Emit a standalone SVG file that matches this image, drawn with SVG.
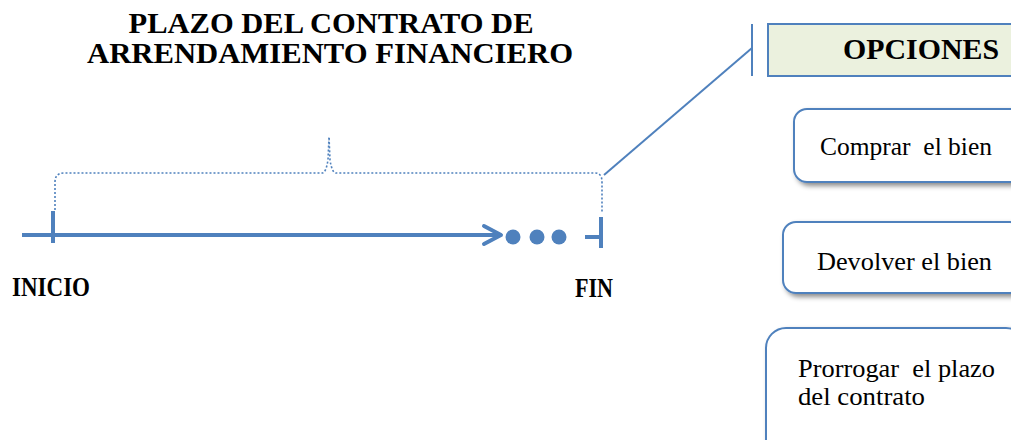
<svg xmlns="http://www.w3.org/2000/svg" width="1011" height="440" viewBox="0 0 1011 440">
<defs>
<style>
.t{font-family:"Liberation Serif","Times New Roman",serif;fill:#000;white-space:pre}
.b{font-weight:bold}
.ln{stroke:#4F81BD;fill:none}
.box{fill:#fff;stroke:#4F81BD;stroke-width:2}
</style>
<filter id="sh" x="-20%" y="-20%" width="140%" height="150%">
<feDropShadow dx="3" dy="3" stdDeviation="2.5" flood-color="#000" flood-opacity="0.45"/>
</filter>
</defs>
<rect width="1011" height="440" fill="#fff"/>
<g id="title">
<text class="t b" x="331" y="33" font-size="28.5" text-anchor="middle" textLength="405" lengthAdjust="spacingAndGlyphs">PLAZO DEL CONTRATO DE</text>
<text class="t b" x="330" y="63" font-size="28.5" text-anchor="middle" textLength="486" lengthAdjust="spacingAndGlyphs">ARRENDAMIENTO FINANCIERO</text>
</g>
<g id="connectors">
<line class="ln" x1="22" y1="235" x2="500" y2="235" stroke-width="4"/>
<polyline class="ln" points="484,226 501,235 484,244" stroke-width="4" stroke-linecap="round" stroke-linejoin="round"/>
<line class="ln" x1="53" y1="211" x2="53" y2="243" stroke-width="4"/>
<line class="ln" x1="585" y1="237" x2="601" y2="237" stroke-width="4"/>
<line class="ln" x1="601" y1="217" x2="601" y2="248" stroke-width="4"/>
<path class="ln" d="M55,210 L55,182 Q55,173 64,173 L322,173 Q326,173 328,160 L329,137 L330,160 Q332,173 336,173 L595,173 Q602,173 602,182 L602,213" stroke-width="1.6" stroke-dasharray="2,2"/>
<line class="ln" x1="604" y1="175" x2="752" y2="48" stroke-width="2"/>
<line class="ln" x1="752" y1="24" x2="752" y2="76" stroke-width="2"/>
</g>
<g id="dots" fill="#4F81BD">
<circle cx="513" cy="237" r="7.5"/>
<circle cx="537" cy="237" r="7.5"/>
<circle cx="559" cy="237" r="7.5"/>
</g>
<g id="inicio">
<text class="t b" x="12" y="296" font-size="27" textLength="78" lengthAdjust="spacingAndGlyphs">INICIO</text>
</g>
<g id="fin">
<text class="t b" x="575" y="297" font-size="27" textLength="38" lengthAdjust="spacingAndGlyphs">FIN</text>
</g>
<g id="opciones">
<rect x="768" y="24" width="260" height="52" fill="#EBF1DE" stroke="#4F81BD" stroke-width="2"/>
<text class="t b" x="843" y="59" font-size="30" textLength="156" lengthAdjust="spacingAndGlyphs">OPCIONES</text>
</g>
<g id="comprar">
<rect class="box" x="794" y="109" width="230" height="73" rx="13" filter="url(#sh)"/>
<text class="t" x="820" y="155" font-size="25" textLength="172" lengthAdjust="spacingAndGlyphs">Comprar  el bien</text>
</g>
<g id="devolver">
<rect class="box" x="783" y="222" width="240" height="71" rx="13" filter="url(#sh)"/>
<text class="t" x="817" y="270" font-size="25" textLength="175" lengthAdjust="spacingAndGlyphs">Devolver el bien</text>
</g>
<g id="prorrogar">
<rect class="box" x="766" y="328" width="260" height="140" rx="20" filter="url(#sh)"/>
<text class="t" x="798" y="377" font-size="25" textLength="197" lengthAdjust="spacingAndGlyphs">Prorrogar  el plazo</text>
<text class="t" x="798" y="405" font-size="25" textLength="127" lengthAdjust="spacingAndGlyphs">del contrato</text>
</g>
</svg>
